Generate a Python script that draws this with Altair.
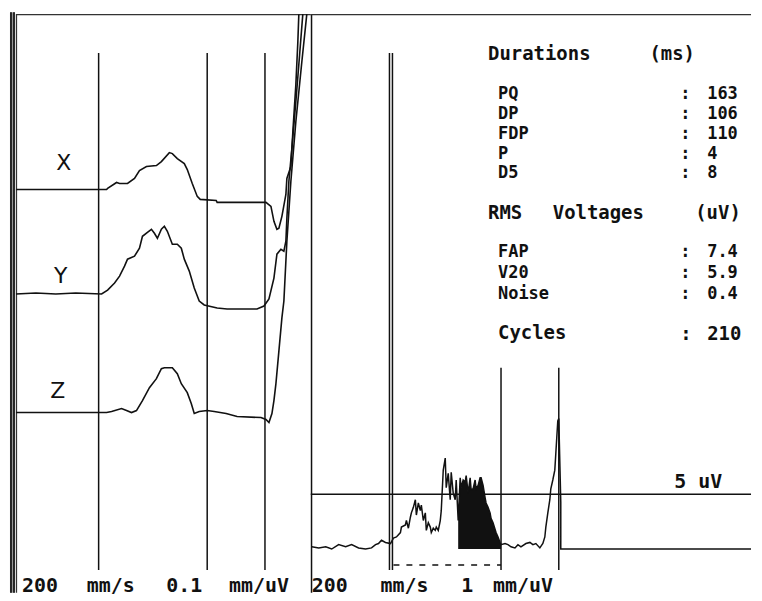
import altair as alt
import pandas as pd

# ---------------- data ----------------
# Left panel: averaged P-wave of leads X, Y, Z. time in ms from P onset, amplitude (display units)
lead_x_t = [-83, 8, 9, 18, 21, 29, 36, 41, 48, 58, 63, 71, 74, 79, 86, 89, 94, 99, 102, 118,
            119, 168, 173, 176, 179, 181, 184, 188, 189, 193, 195, 198, 200, 201]
lead_x_amp = [0, 0, 1, 7, 6, 6, 11, 19, 23, 24, 28, 37, 36, 31, 26, 20, 6, -7, -10, -11,
              -13, -13, -17, -32, -40, -39, -27, -5, 11, 23, 58, 105, 148, 176]

lead_y_t = [-83, -63, -43, -23, 3, 9, 16, 21, 26, 29, 36, 41, 44, 49, 53, 56, 59, 63, 66, 69,
            74, 79, 83, 86, 91, 96, 101, 106, 119, 129, 159, 166, 171, 176, 179, 183, 186, 188,
            189, 191, 194, 198, 202, 205]
lead_y_amp = [0, 1, 0, 1, 0, 4, 11, 18, 28, 35, 38, 46, 58, 62, 65, 61, 56, 65, 68, 63,
              50, 50, 46, 35, 23, 6, -7, -11, -14, -15, -15, -12, -5, 16, 40, 45, 43, 53,
              76, 113, 146, 193, 243, 281]

lead_z_t = [-83, 8, 13, 23, 28, 33, 38, 44, 51, 58, 63, 66, 74, 79, 83, 89, 93, 96, 101, 109,
            116, 128, 139, 163, 168, 171, 174, 176, 178, 181, 184, 186, 189, 193, 198, 204, 209]
lead_z_amp = [0, 0, 1, 4, 2, 0, 2, 12, 25, 34, 44, 45, 45, 39, 29, 20, 9, -1, 1, 2,
              1, -1, -4, -5, -7, -10, -1, 12, 29, 62, 95, 112, 172, 232, 292, 352, 400]

lead_names = ["X", "Y", "Z"]
left_markers_ms = [0, 109, 167]

# Right panel: filtered vector magnitude, time in ms, amplitude in uV
fvm_t = [-78, -71, -64, -58, -51, -44, -38, -31, -24, -18,
         -14, -11, -8, -4, 1, 4, 7, 11, 12, 16,
         17, 19, 21, 22, 24, 26, 27, 29, 31, 32,
         34, 36, 37, 39, 41, 42, 44, 46, 47, 49,
         51, 52, 54, 56, 57, 59, 61, 62, 64, 66,
         67, 69, 71, 72, 74, 76, 77, 79, 81, 82,
         84, 86, 87, 89, 91, 92, 94, 96, 97, 99,
         101, 102, 104, 107, 109, 111, 112, 116, 119, 122,
         126, 129, 132, 137, 141, 144, 147, 151, 154, 156,
         157, 159, 161, 162, 164, 166, 167, 168, 169, 170,
         172, 172, 363]
fvm_uv = [0.2, 0.1, 0.2, 0, 0.4, 0.2, 0.4, 0.1, 0, 0.1,
          0.4, 0.5, 0.8, 0.6, 0.5, 1.0, 1.1, 1.5, 2.0, 2.2,
          2.6, 1.9, 2.9, 3.3, 3.8, 4.5, 3.1, 4.2, 3.5, 4.0,
          2.6, 3.3, 1.7, 2.4, 2.0, 1.5, 1.9, 1.7, 2.0, 1.7,
          2.6, 3.5, 7.2, 8.3, 5.6, 6.9, 4.5, 7.0, 5.1, 4.5,
          6.3, 2.6, 6.5, 5.6, 6.3, 6.1, 6.7, 5.1, 6.5, 5.4,
          5.5, 6.3, 5.5, 5.8, 6.5, 6.5, 5.8, 4.7, 4.2, 3.8,
          3.3, 2.8, 2.4, 1.5, 1.1, 0.6, 0.4, 0.5, 0.4, 0.2,
          0.1, 0.4, 0.2, 0.5, 0.6, 0.4, 0.5, 0.1, 0.5, 1.1,
          2.0, 3.3, 4.5, 5.5, 6.3, 7.2, 8.7, 10.2, 11.7, 11.9,
          4.3, 0, 0]
fill_window_ms = [69, 112]
right_markers_long_ms = [0, 3]
right_markers_short_ms = [112, 170]
dash_window_ms = [4, 112]
threshold_uv = 5

duration_labels = ["PQ", "DP", "FDP", "P", "D5"]
duration_values = ["163", "106", "110", "4", "8"]
rms_labels = ["FAP", "V20", "Noise"]
rms_values = ["7.4", "5.9", "0.4"]
cycles_label = "Cycles"
cycles_value = "210"
durations_title = ["Durations", "(ms)"]
rms_title = ["RMS", "Voltages", "(uV)"]
left_caption = ["200", "mm/s", "0.1", "mm/uV"]
right_caption = ["200", "mm/s", "1", "mm/uV"]
threshold_label = "5 uV"

# ---------------- layout / style ----------------
MONO = "DejaVu Sans Mono"
SANS = "DejaVu Sans"
INK = "#111111"
W_L, W_R, H = 304, 442, 585
lead_offsets = {"X": 405, "Y": 300, "Z": 181}

xs_l = alt.Scale(domain=[-91, 213], nice=False, zero=False)
ys_l = alt.Scale(domain=[0, H], nice=False, zero=False)
xs_r = alt.Scale(domain=[-79, 363], nice=False, zero=False)
ys_r = alt.Scale(domain=[-4, 49.1818], nice=False, zero=False)

one = pd.DataFrame({"k": [0]})


def vline(x, y1, y2, w=1.5, color=INK):
    return alt.Chart(one).mark_rule(strokeWidth=w, color=color).encode(
        x=alt.value(x), y=alt.value(y1), y2=alt.value(y2))


def hline(y, x1, x2, w=1.5, color=INK):
    return alt.Chart(one).mark_rule(strokeWidth=w, color=color).encode(
        y=alt.value(y), x=alt.value(x1), x2=alt.value(x2))


def txt(s, x, y, size=20, weight="bold", font=MONO, align="left"):
    return alt.Chart(alt.Data(values=[{"s": s}])).mark_text(
        font=font, fontSize=size, fontWeight=weight, align=align,
        baseline="alphabetic", color=INK).encode(
        text="s:N", x=alt.value(x), y=alt.value(y))


# ---------------- left panel ----------------
rows = []
for name, ts, amps in zip(lead_names, [lead_x_t, lead_y_t, lead_z_t],
                          [lead_x_amp, lead_y_amp, lead_z_amp]):
    for i, (t, a) in enumerate(zip(ts, amps)):
        rows.append({"lead": name, "i": i, "t": t, "v": a + lead_offsets[name]})
df_leads = pd.DataFrame(rows)

leads = alt.Chart(df_leads).mark_line(color=INK, strokeWidth=1.6).encode(
    x=alt.X("t:Q", scale=xs_l, axis=None),
    y=alt.Y("v:Q", scale=ys_l, axis=None),
    detail="lead:N", order="i:Q")

markers_l = alt.Chart(pd.DataFrame({"t": left_markers_ms})).mark_rule(
    color=INK, strokeWidth=1.5).encode(
    x=alt.X("t:Q", scale=xs_l, axis=None), y=alt.value(43), y2=alt.value(562))

left_layers = [
    vline(4.5, 2, H, w=5, color="#9a9a9a"),
    vline(3, 2, H, w=2, color="#262626"),
    vline(6, 2, H, w=2, color="#262626"),
    vline(8.5, 4, H, w=1.3, color="#333333"),
    hline(4.5, 8, W_L, w=1.3, color="#333333"),
    markers_l,
    leads,
]
label_pos = {"X": (56, 160), "Y": (53, 274), "Z": (50, 389)}
for name in lead_names:
    lx, ly = label_pos[name]
    left_layers.append(txt(name, lx, ly, size=22, weight="normal", font=SANS, align="center"))
for word, x in zip(left_caption, [14, 79, 159, 222]):
    left_layers.append(txt(word, x, 584))

left = alt.layer(*left_layers).properties(width=W_L, height=H)

# ---------------- right panel ----------------
df_fvm = pd.DataFrame({"i": range(len(fvm_t)), "t": fvm_t, "uv": fvm_uv})
df_fill = df_fvm[(df_fvm.t >= fill_window_ms[0]) & (df_fvm.t <= fill_window_ms[1])].copy()
df_fill["base"] = 0.0

fill = alt.Chart(df_fill).mark_area(color=INK, opacity=1, interpolate="linear").encode(
    x=alt.X("t:Q", scale=xs_r, axis=None),
    y=alt.Y("uv:Q", scale=ys_r, axis=None),
    y2="base:Q")

fvm = alt.Chart(df_fvm).mark_line(color=INK, strokeWidth=1.5).encode(
    x=alt.X("t:Q", scale=xs_r, axis=None),
    y=alt.Y("uv:Q", scale=ys_r, axis=None), order="i:Q")

thr = alt.Chart(pd.DataFrame({"uv": [threshold_uv]})).mark_rule(
    color=INK, strokeWidth=1.5).encode(
    y=alt.Y("uv:Q", scale=ys_r, axis=None), x=alt.value(0), x2=alt.value(W_R))

mk_long = alt.Chart(pd.DataFrame({"t": right_markers_long_ms})).mark_rule(
    color=INK, strokeWidth=1.5).encode(
    x=alt.X("t:Q", scale=xs_r, axis=None), y=alt.value(43), y2=alt.value(562))
mk_short = alt.Chart(pd.DataFrame({"t": right_markers_short_ms})).mark_rule(
    color=INK, strokeWidth=1.5).encode(
    x=alt.X("t:Q", scale=xs_r, axis=None), y=alt.value(359), y2=alt.value(562))

dash = alt.Chart(pd.DataFrame({"t": [dash_window_ms[0]], "t2": [dash_window_ms[1]]})).mark_rule(
    color=INK, strokeWidth=1.5, strokeDash=[6, 7]).encode(
    x=alt.X("t:Q", scale=xs_r, axis=None), x2="t2:Q", y=alt.value(557))

right_layers = [
    vline(0.75, 4, H, w=1.5),
    hline(4.5, 0, W_R, w=1.3, color="#333333"),
    thr, mk_long, mk_short, dash, fill, fvm,
]
# statistics block
TS = 17
for word, x in zip(durations_title, [178, 340]):
    right_layers.append(txt(word, x, 50, size=19))
for k, (lab, val) in enumerate(zip(duration_labels, duration_values)):
    y = 89 + 20 * k
    right_layers += [txt(lab, 188, y, size=TS), txt(":", 371, y, size=TS), txt(val, 398, y, size=TS)]
for word, x in zip(rms_title, [178, 243, 386]):
    right_layers.append(txt(word, x, 210, size=19))
for k, (lab, val) in enumerate(zip(rms_labels, rms_values)):
    y = 248 + 21 * k
    right_layers += [txt(lab, 188, y, size=TS), txt(":", 371, y, size=TS), txt(val, 398, y, size=TS)]
right_layers += [txt(cycles_label, 188, 330, size=19), txt(":", 371, 331, size=19),
                 txt(cycles_value, 398, 331, size=19)]
right_layers.append(txt(threshold_label, 365, 480))
for word, x in zip(right_caption, [1, 70, 151, 183]):
    right_layers.append(txt(word, x, 584))

right = alt.layer(*right_layers).properties(width=W_R, height=H)

chart = alt.hconcat(left, right, spacing=0, bounds="flush").properties(
    padding=0, background="white").configure_view(stroke=None)

chart.save("out.html", embed_options={"renderer": "svg", "actions": False})
